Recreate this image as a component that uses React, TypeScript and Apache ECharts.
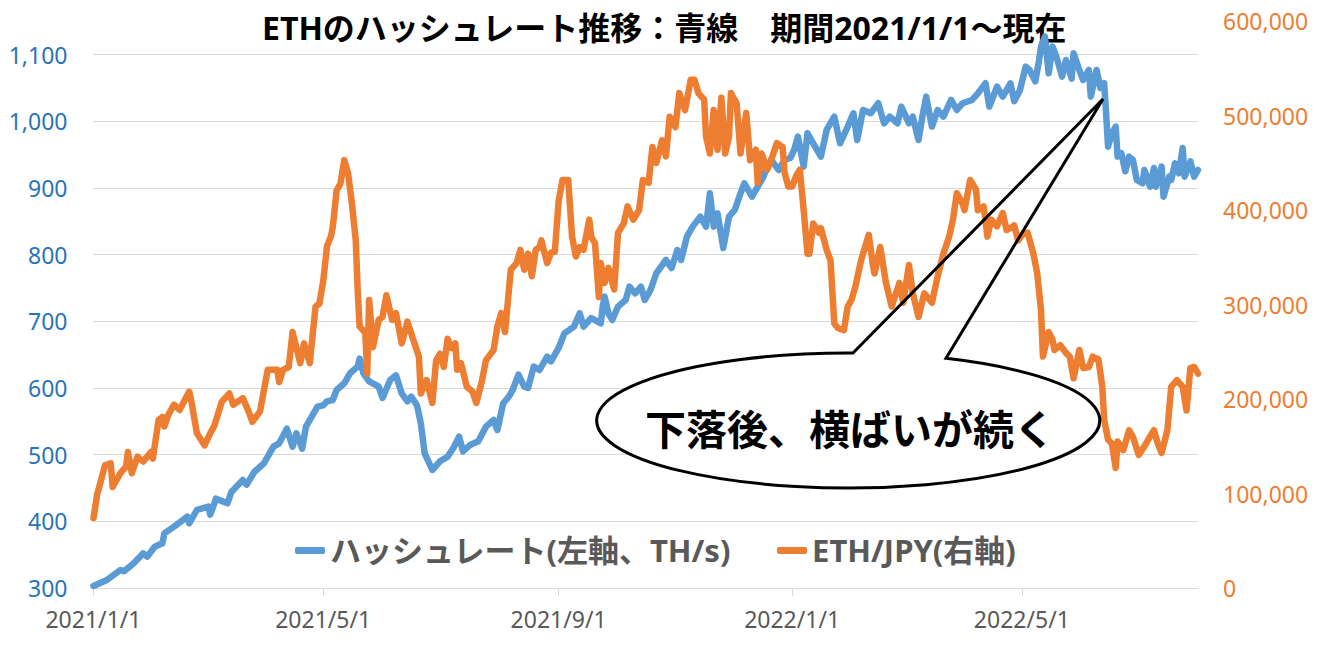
import React, { useEffect, useRef } from "react";
import * as echarts from "echarts";

// ---- Data ----
const xTickLabels = ["2021/1/1", "2021/5/1", "2021/9/1", "2022/1/1", "2022/5/1"];
const firstDay = "2021/1/1";
const lastDay = "2022/8/1";

const hashDates = [
  "2021/1/1", "2021/1/8", "2021/1/15", "2021/1/17", "2021/1/22", "2021/1/27", "2021/1/29", "2021/2/2", "2021/2/6", "2021/2/7",
  "2021/2/13", "2021/2/19", "2021/2/20", "2021/2/24", "2021/3/2", "2021/3/3", "2021/3/6", "2021/3/12", "2021/3/14", "2021/3/20",
  "2021/3/22", "2021/3/26", "2021/3/31", "2021/4/5", "2021/4/8", "2021/4/12", "2021/4/15", "2021/4/17", "2021/4/20", "2021/4/22",
  "2021/4/28", "2021/5/1", "2021/5/3", "2021/5/6", "2021/5/8", "2021/5/12", "2021/5/15", "2021/5/19", "2021/5/20", "2021/5/22",
  "2021/5/25", "2021/5/30", "2021/6/1", "2021/6/5", "2021/6/8", "2021/6/11", "2021/6/14", "2021/6/16", "2021/6/19", "2021/6/21",
  "2021/6/23", "2021/6/27", "2021/7/1", "2021/7/5", "2021/7/8", "2021/7/11", "2021/7/13", "2021/7/17", "2021/7/21", "2021/7/25",
  "2021/7/29", "2021/7/31", "2021/8/3", "2021/8/6", "2021/8/8", "2021/8/11", "2021/8/14", "2021/8/16", "2021/8/19", "2021/8/22",
  "2021/8/26", "2021/8/28", "2021/9/1", "2021/9/4", "2021/9/9", "2021/9/12", "2021/9/14", "2021/9/18", "2021/9/23", "2021/9/24",
  "2021/9/25", "2021/9/27", "2021/9/29", "2021/10/2", "2021/10/6", "2021/10/8", "2021/10/11", "2021/10/14", "2021/10/16", "2021/10/19",
  "2021/10/22", "2021/10/27", "2021/10/30", "2021/11/2", "2021/11/4", "2021/11/7", "2021/11/10", "2021/11/14", "2021/11/17", "2021/11/19",
  "2021/11/21", "2021/11/23", "2021/11/26", "2021/11/29", "2021/12/2", "2021/12/5", "2021/12/7", "2021/12/11", "2021/12/14", "2021/12/17",
  "2021/12/19", "2021/12/21", "2021/12/25", "2021/12/28", "2021/12/31", "2022/1/2", "2022/1/4", "2022/1/7", "2022/1/9", "2022/1/12",
  "2022/1/16", "2022/1/19", "2022/1/23", "2022/1/26", "2022/1/30", "2022/2/2", "2022/2/4", "2022/2/7", "2022/2/11", "2022/2/15",
  "2022/2/18", "2022/2/21", "2022/2/25", "2022/2/27", "2022/3/3", "2022/3/5", "2022/3/8", "2022/3/10", "2022/3/12", "2022/3/15",
  "2022/3/18", "2022/3/21", "2022/3/25", "2022/3/28", "2022/3/31", "2022/4/5", "2022/4/8", "2022/4/12", "2022/4/14", "2022/4/18",
  "2022/4/21", "2022/4/25", "2022/4/27", "2022/4/30", "2022/5/3", "2022/5/5", "2022/5/8", "2022/5/10", "2022/5/11", "2022/5/13",
  "2022/5/15", "2022/5/17", "2022/5/19", "2022/5/22", "2022/5/24", "2022/5/27", "2022/5/28", "2022/5/31", "2022/6/2", "2022/6/5",
  "2022/6/6", "2022/6/9", "2022/6/11", "2022/6/13", "2022/6/14", "2022/6/15", "2022/6/17", "2022/6/19", "2022/6/20", "2022/6/22",
  "2022/6/24", "2022/6/26", "2022/6/28", "2022/6/30", "2022/7/3", "2022/7/4", "2022/7/7", "2022/7/9", "2022/7/10", "2022/7/13",
  "2022/7/14", "2022/7/17", "2022/7/18", "2022/7/20", "2022/7/22", "2022/7/24", "2022/7/25", "2022/7/28", "2022/7/30", "2022/8/1",
];
const hashRate = [
  303, 312, 327, 325, 337, 352, 347, 362, 367, 382,
  394, 407, 397, 417, 422, 410, 434, 427, 444, 462,
  455, 474, 487, 512, 517, 539, 512, 532, 509, 542,
  572, 574, 580, 582, 597, 607, 622, 632, 644, 622,
  610, 602, 585, 612, 619, 592, 580, 587, 574, 547,
  502, 477, 490, 497, 510, 527, 505, 515, 520, 542,
  552, 537, 577, 587, 597, 620, 602, 600, 632, 627,
  647, 640, 660, 682, 692, 712, 692, 705, 697, 722,
  737, 712, 702, 722, 732, 752, 742, 752, 732, 747,
  772, 792, 780, 807, 792, 827, 842, 857, 842, 892,
  842, 862, 810, 857, 867, 892, 907, 887, 902, 917,
  932, 942, 927, 942, 945, 957, 977, 932, 982, 967,
  947, 987, 1007, 967, 992, 1012, 972, 1017, 1012, 1027,
  997, 1007, 997, 1022, 997, 1007, 972, 1007, 1037, 992,
  1017, 1007, 1032, 1017, 1027, 1032, 1042, 1057, 1022, 1052,
  1037, 1057, 1030, 1047, 1082, 1077, 1060, 1092, 1112, 1127,
  1072, 1112, 1097, 1067, 1092, 1064, 1102, 1077, 1062, 1077,
  1037, 1077, 1050, 1057, 1012, 962, 982, 992, 947, 952,
  925, 947, 942, 912, 907, 927, 902, 930, 902, 932,
  887, 917, 912, 937, 922, 960, 917, 940, 917, 927,
];

const ethDates = [
  "2021/1/1", "2021/1/3", "2021/1/4", "2021/1/7", "2021/1/10", "2021/1/11", "2021/1/15", "2021/1/18", "2021/1/19", "2021/1/21",
  "2021/1/24", "2021/1/27", "2021/1/31", "2021/2/1", "2021/2/4", "2021/2/6", "2021/2/7", "2021/2/9", "2021/2/12", "2021/2/15",
  "2021/2/20", "2021/2/21", "2021/2/24", "2021/2/28", "2021/3/3", "2021/3/5", "2021/3/9", "2021/3/13", "2021/3/15", "2021/3/20",
  "2021/3/23", "2021/3/25", "2021/3/29", "2021/4/2", "2021/4/7", "2021/4/8", "2021/4/10", "2021/4/13", "2021/4/15", "2021/4/19",
  "2021/4/21", "2021/4/24", "2021/4/27", "2021/4/29", "2021/5/1", "2021/5/3", "2021/5/5", "2021/5/6", "2021/5/8", "2021/5/10",
  "2021/5/12", "2021/5/14", "2021/5/16", "2021/5/18", "2021/5/19", "2021/5/20", "2021/5/23", "2021/5/24", "2021/5/25", "2021/5/27",
  "2021/5/30", "2021/6/1", "2021/6/3", "2021/6/6", "2021/6/8", "2021/6/11", "2021/6/14", "2021/6/17", "2021/6/20", "2021/6/21",
  "2021/6/24", "2021/6/27", "2021/6/29", "2021/7/1", "2021/7/3", "2021/7/5", "2021/7/7", "2021/7/9", "2021/7/10", "2021/7/12",
  "2021/7/15", "2021/7/18", "2021/7/20", "2021/7/23", "2021/7/25", "2021/7/29", "2021/7/31", "2021/8/2", "2021/8/4", "2021/8/7",
  "2021/8/10", "2021/8/12", "2021/8/14", "2021/8/16", "2021/8/18", "2021/8/20", "2021/8/22", "2021/8/23", "2021/8/26", "2021/8/28",
  "2021/8/30", "2021/9/1", "2021/9/3", "2021/9/6", "2021/9/8", "2021/9/10", "2021/9/12", "2021/9/14", "2021/9/17", "2021/9/18",
  "2021/9/20", "2021/9/22", "2021/9/23", "2021/9/25", "2021/9/27", "2021/9/30", "2021/10/2", "2021/10/5", "2021/10/7", "2021/10/10",
  "2021/10/13", "2021/10/15", "2021/10/18", "2021/10/20", "2021/10/22", "2021/10/25", "2021/10/27", "2021/10/29", "2021/11/1", "2021/11/3",
  "2021/11/6", "2021/11/9", "2021/11/11", "2021/11/13", "2021/11/16", "2021/11/17", "2021/11/19", "2021/11/21", "2021/11/23", "2021/11/25",
  "2021/11/27", "2021/11/29", "2021/11/30", "2021/12/3", "2021/12/5", "2021/12/8", "2021/12/10", "2021/12/13", "2021/12/14", "2021/12/16",
  "2021/12/19", "2021/12/21", "2021/12/24", "2021/12/27", "2021/12/28", "2021/12/30", "2022/1/1", "2022/1/3", "2022/1/5", "2022/1/7",
  "2022/1/9", "2022/1/10", "2022/1/12", "2022/1/15", "2022/1/16", "2022/1/19", "2022/1/21", "2022/1/23", "2022/1/25", "2022/1/28",
  "2022/1/30", "2022/2/1", "2022/2/3", "2022/2/6", "2022/2/10", "2022/2/12", "2022/2/13", "2022/2/16", "2022/2/19", "2022/2/22",
  "2022/2/26", "2022/2/28", "2022/3/3", "2022/3/5", "2022/3/8", "2022/3/11", "2022/3/15", "2022/3/18", "2022/3/21", "2022/3/24",
  "2022/3/26", "2022/3/28", "2022/3/31", "2022/4/1", "2022/4/4", "2022/4/7", "2022/4/8", "2022/4/11", "2022/4/13", "2022/4/15",
  "2022/4/18", "2022/4/21", "2022/4/23", "2022/4/25", "2022/4/27", "2022/4/29", "2022/5/2", "2022/5/4", "2022/5/7", "2022/5/9",
  "2022/5/11", "2022/5/12", "2022/5/15", "2022/5/17", "2022/5/18", "2022/5/21", "2022/5/24", "2022/5/26", "2022/5/28", "2022/5/31",
  "2022/6/2", "2022/6/5", "2022/6/7", "2022/6/10", "2022/6/12", "2022/6/13", "2022/6/15", "2022/6/17", "2022/6/19", "2022/6/20",
  "2022/6/23", "2022/6/26", "2022/6/28", "2022/7/1", "2022/7/4", "2022/7/6", "2022/7/9", "2022/7/11", "2022/7/13", "2022/7/16",
  "2022/7/18", "2022/7/21", "2022/7/24", "2022/7/26", "2022/7/28", "2022/7/30", "2022/8/1",
];
const ethJpy = [
  74000, 100000, 107000, 130000, 132000, 107000, 121500, 128500, 144000, 121500,
  139000, 134000, 144000, 137000, 178000, 181000, 171000, 183000, 194000, 188500,
  208000, 199000, 164000, 151000, 164000, 171000, 197000, 206000, 194000, 201000,
  187000, 176000, 187000, 231000, 231000, 218000, 231000, 234000, 271000, 238000,
  259000, 238000, 298000, 301000, 325000, 362000, 372000, 382000, 421000, 428000,
  453000, 439000, 407000, 368000, 316000, 277000, 270000, 227000, 305000, 255000,
  284000, 287000, 310000, 284000, 291000, 259000, 282000, 263000, 245000, 206000,
  220000, 196000, 241000, 248000, 234000, 264000, 254000, 259000, 231000, 238000,
  213000, 208000, 196000, 220000, 241000, 252000, 277000, 291000, 271000, 337000,
  344000, 358000, 337000, 354000, 330000, 358000, 361000, 368000, 344000, 355000,
  356000, 410000, 432000, 432000, 372000, 351000, 361000, 358000, 390000, 372000,
  365000, 308000, 344000, 323000, 339000, 316000, 376000, 386000, 404000, 390000,
  400000, 432000, 429000, 467000, 450000, 474000, 457000, 499000, 488000, 524000,
  506000, 538000, 538000, 524000, 517000, 478000, 460000, 506000, 464000, 519000,
  460000, 478000, 524000, 513000, 460000, 503000, 453000, 464000, 429000, 460000,
  443000, 453000, 471000, 467000, 440000, 425000, 425000, 436000, 443000, 400000,
  354000, 354000, 386000, 376000, 381000, 358000, 347000, 280000, 275000, 273000,
  298000, 305000, 319000, 347000, 374000, 344000, 333000, 361000, 323000, 298000,
  323000, 302000, 342000, 312000, 287000, 312000, 302000, 330000, 354000, 372000,
  390000, 418000, 407000, 400000, 432000, 422000, 400000, 404000, 372000, 390000,
  383000, 397000, 379000, 381000, 384000, 368000, 376000, 376000, 354000, 333000,
  294000, 245000, 271000, 263000, 252000, 257000, 249000, 245000, 222000, 252000,
  233000, 234000, 245000, 242000, 213000, 178000, 157000, 153000, 127000, 155000,
  146000, 167000, 160000, 141000, 150000, 157000, 167000, 153000, 143000, 167000,
  213000, 220000, 213000, 188000, 233000, 234000, 227000,
];

const titleText = "ETHのハッシュレート推移：青線　期間2021/1/1～現在";
const hashName = "ハッシュレート(左軸、TH/s)";
const ethName = "ETH/JPY(右軸)";
const calloutText = "下落後、横ばいが続く";

const FONT = "'Noto Sans', 'Noto Sans CJK JP', sans-serif";
const BLUE = "#5B9BD5";
const ORANGE = "#ED7D31";

function fmtDate(d: Date): string {
  return `${d.getUTCFullYear()}/${d.getUTCMonth() + 1}/${d.getUTCDate()}`;
}
function parseDate(s: string): number {
  const [y, m, d] = s.split("/").map(Number);
  return Date.UTC(y, m - 1, d);
}
function buildDays(from: string, to: string): string[] {
  const out: string[] = [];
  const end = parseDate(to);
  const d = new Date(parseDate(from));
  while (d.getTime() <= end) {
    out.push(fmtDate(d));
    d.setUTCDate(d.getUTCDate() + 1);
  }
  return out;
}

// callout outline: wedge pointing to the drop, merged with an ellipse
const CALLOUT_D =
  "M 853 353 L 1103 99 L 946 358.3 A 251.5 67.5 0 1 1 853 353 Z";
let registered = false;
function ensureShape() {
  if (registered) return;
  echarts.graphic.registerShape("callout", echarts.graphic.extendPath(CALLOUT_D, {}));
  registered = true;
}

export default function App() {
  const ref = useRef<HTMLDivElement>(null);

  useEffect(() => {
    if (!ref.current) return;
    ensureShape();
    const chart = echarts.init(ref.current, undefined, { renderer: "svg" });

    const days = buildDays(firstDay, lastDay);
    const dayIndex: Record<string, number> = {};
    days.forEach((d, i) => (dayIndex[d] = i));
    const tickSet = new Set(xTickLabels);
    const showTick = (_i: number, v: string) => tickSet.has(v);

    const hashData = hashDates.map((d, i) => [dayIndex[d], hashRate[i]]);
    const ethData = ethDates.map((d, i) => [dayIndex[d], ethJpy[i]]);

    chart.setOption({
      animation: false,
      backgroundColor: "#ffffff",
      title: {
        text: titleText,
        left: 262,
        top: 11,
        padding: 0,
        z: 0,
        textStyle: { fontSize: 32, fontWeight: "bold", color: "#000000", fontFamily: FONT },
      },
      grid: { left: 93.5, right: 120, top: 21.3, bottom: 82 },
      legend: {
        left: 290,
        top: 530,
        itemWidth: 30,
        itemHeight: 7,
        itemGap: 46,
        icon: "roundRect",
        textStyle: { fontSize: 31, fontWeight: "bold", color: "#595959", fontFamily: FONT },
        data: [hashName, ethName],
      },
      xAxis: {
        type: "category",
        data: days,
        boundaryGap: false,
        axisLine: { show: true, lineStyle: { color: "#D9D9D9", width: 1 } },
        axisTick: { show: true, interval: showTick, length: 8, lineStyle: { color: "#D9D9D9" } },
        axisLabel: {
          interval: showTick,
          color: "#595959",
          fontSize: 23,
          fontFamily: FONT,
          margin: 19,
        },
        splitLine: { show: false },
      },
      yAxis: [
        {
          type: "value",
          position: "left",
          min: 300,
          max: 1150,
          interval: 100,
          axisLine: { show: false },
          axisTick: { show: false },
          axisLabel: {
            color: "#2874B8",
            fontSize: 23,
            fontFamily: FONT,
            margin: 26,
            showMaxLabel: false,
            formatter: (v: number) => v.toLocaleString("en-US"),
          },
          splitLine: { show: true, showMaxLine: false, lineStyle: { color: "#D9D9D9", width: 1 } },
        },
        {
          type: "value",
          position: "right",
          min: 0,
          max: 600000,
          interval: 100000,
          axisLine: { show: false },
          axisTick: { show: false },
          axisLabel: {
            color: ORANGE,
            fontSize: 23,
            fontFamily: FONT,
            margin: 25,
            formatter: (v: number) => v.toLocaleString("en-US"),
          },
          splitLine: { show: false },
        },
      ],
      series: [
        {
          name: hashName,
          type: "line",
          yAxisIndex: 0,
          data: hashData,
          showSymbol: false,
          symbol: "none",
          color: BLUE,
          lineStyle: { color: BLUE, width: 6.5, cap: "round", join: "round" },
          z: 2,
        },
        {
          name: ethName,
          type: "line",
          yAxisIndex: 1,
          data: ethData,
          showSymbol: false,
          symbol: "none",
          color: ORANGE,
          lineStyle: { color: ORANGE, width: 6.5, cap: "round", join: "round" },
          z: 3,
        },
      ],
      graphic: [
        {
          type: "ellipse",
          z: 99,
          shape: { cx: 848.5, cy: 420.5, rx: 251.5, ry: 67.5 },
          style: { fill: "#ffffff", stroke: "none" },
        },
        {
          type: "callout",
          z: 100,
          style: {
            fill: "none",
            stroke: "#000000",
            lineWidth: 3,
            lineJoin: "miter",
          },
        },
        {
          type: "text",
          x: 850,
          y: 427,
          z: 101,
          style: {
            text: calloutText,
            fill: "#000000",
            fontSize: 41,
            fontWeight: "bold",
            fontFamily: "'Noto Sans CJK JP', sans-serif",
            align: "center",
            verticalAlign: "middle",
          },
        },
      ],
    });

    return () => chart.dispose();
  }, []);

  return (
    <div
      ref={ref}
      style={{ position: "fixed", left: 0, top: 0, width: "1318px", height: "670px", background: "#fff" }}
    />
  );
}
